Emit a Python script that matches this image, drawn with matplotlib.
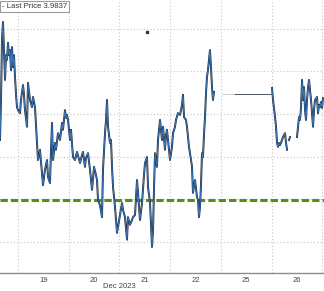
import numpy as np
import matplotlib
matplotlib.use("Agg")
import matplotlib.pyplot as plt
import matplotlib.transforms as mtransforms

# time axis: trading-day index, 0 = open of Dec 19 (weekend removed)
day_labels = ["19", "20", "21", "22", "25", "26"]
month_label = "Dec 2023"
last_price = 3.9837
level = 3.9597
event_t, event_v = 2.54, 3.9993

dec18_t = [-0.355, -0.335, -0.316, -0.296, -0.276, -0.256, -0.237, -0.217, -0.197, -0.178,
           -0.158, -0.138, -0.118, -0.099, -0.079, -0.059, -0.039, -0.020]
dec18_v = [3.9739, 3.9833, 3.9974, 4.0016, 3.9950, 3.9880, 3.9938, 3.9927, 3.9967, 3.9938,
           3.9950, 3.9903, 3.9957, 3.9910, 3.9938, 3.9887, 3.9845, 3.9816]

dec19_t = [0.000, 0.039, 0.059, 0.099, 0.118, 0.138, 0.178, 0.197, 0.237, 0.276, 0.296, 0.335,
           0.355, 0.375, 0.394, 0.434, 0.473, 0.493, 0.532, 0.572, 0.592, 0.631, 0.651, 0.671,
           0.690, 0.730, 0.749, 0.789, 0.828, 0.868, 0.887, 0.927, 0.947, 0.966, 0.986]
dec19_v = [3.9809, 3.9802, 3.9833, 3.9868, 3.9845, 3.9809, 3.9770, 3.9873, 3.9833, 3.9816,
           3.9840, 3.9816, 3.9774, 3.9732, 3.9692, 3.9716, 3.9662, 3.9633, 3.9669, 3.9692,
           3.9652, 3.9638, 3.9716, 3.9779, 3.9692, 3.9732, 3.9716, 3.9755, 3.9739, 3.9779,
           3.9763, 3.9809, 3.9791, 3.9798, 3.9786]

dec20_t = [1.026, 1.045, 1.085, 1.124, 1.164, 1.223, 1.262, 1.282, 1.321, 1.341, 1.381, 1.420,
           1.460, 1.499, 1.538, 1.558, 1.578, 1.617, 1.657, 1.676, 1.716, 1.736, 1.755, 1.775,
           1.815, 1.834, 1.854, 1.874, 1.913, 1.933, 1.953, 1.972]
dec20_v = [3.9739, 3.9763, 3.9699, 3.9692, 3.9711, 3.9685, 3.9704, 3.9711, 3.9676, 3.9697,
           3.9708, 3.9669, 3.9622, 3.9676, 3.9657, 3.9645, 3.9598, 3.9586, 3.9558, 3.9669,
           3.9755, 3.9786, 3.9833, 3.9770, 3.9732, 3.9739, 3.9676, 3.9629, 3.9582, 3.9551,
           3.9521, 3.9535]

dec21_t = [2.051, 2.071, 2.110, 2.150, 2.169, 2.209, 2.248, 2.268, 2.308, 2.347, 2.367, 2.406,
           2.446, 2.485, 2.505, 2.544, 2.564, 2.604, 2.623, 2.643, 2.663, 2.682, 2.702, 2.741,
           2.761, 2.801, 2.820, 2.840, 2.860, 2.899, 2.919, 2.938, 2.958, 2.998]
dec21_v = [3.9591, 3.9575, 3.9558, 3.9505, 3.9558, 3.9540, 3.9551, 3.9558, 3.9563, 3.9645,
           3.9615, 3.9551, 3.9591, 3.9657, 3.9685, 3.9699, 3.9629, 3.9591, 3.9540, 3.9488,
           3.9528, 3.9622, 3.9708, 3.9676, 3.9739, 3.9786, 3.9763, 3.9739, 3.9770, 3.9716,
           3.9751, 3.9763, 3.9739, 3.9692]

dec22_t = [3.037, 3.057, 3.096, 3.116, 3.155, 3.195, 3.214, 3.234, 3.254, 3.274, 3.313, 3.333,
           3.372, 3.392, 3.432, 3.451, 3.491, 3.530, 3.550, 3.570, 3.589, 3.609, 3.629, 3.648,
           3.668, 3.688, 3.708, 3.727, 3.747, 3.767, 3.786, 3.806, 3.826, 3.845, 3.865]
dec22_v = [3.9723, 3.9755, 3.9770, 3.9786, 3.9802, 3.9798, 3.9809, 3.9821, 3.9845, 3.9793,
           3.9786, 3.9770, 3.9723, 3.9708, 3.9676, 3.9615, 3.9645, 3.9605, 3.9598, 3.9558,
           3.9582, 3.9633, 3.9708, 3.9699, 3.9751, 3.9793, 3.9849, 3.9887, 3.9903, 3.9927,
           3.9950, 3.9910, 3.9863, 3.9833, 3.9852]

# Christmas: no trading, flat line
dec25_t = [4.024, 4.280, 4.990]
dec25_v = [3.9847, 3.9847, 3.9847]

dec26_t = [5.010, 5.030, 5.069, 5.089, 5.108, 5.128, 5.148, 5.168, 5.207, 5.227, 5.266, 5.286,
           5.306, 5.326, 5.345, 5.365, 5.440, 5.503, 5.523, 5.542, 5.562, 5.582, 5.602, 5.621,
           5.641, 5.661, 5.680, 5.700, 5.720, 5.740, 5.759, 5.779, 5.799, 5.818, 5.838, 5.858,
           5.897, 5.917, 5.937, 5.956, 5.976, 5.996, 6.015]
dec26_v = [3.9861, 3.9833, 3.9793, 3.9770, 3.9732, 3.9723, 3.9732, 3.9727, 3.9739, 3.9746,
           3.9755, 3.9732, 3.9716, np.nan, 3.9739, 3.9746, np.nan, 3.9746, 3.9770, 3.9793,
           3.9786, 3.9816, 3.9880, 3.9833, 3.9863, 3.9809, 3.9786, 3.9833, 3.9863, 3.9880,
           3.9856, 3.9833, 3.9802, 3.9770, 3.9809, 3.9833, 3.9840, 3.9802, 3.9821, 3.9816,
           3.9828, 3.9814, 3.9837]

trade_t = dec18_t + dec19_t + dec20_t + dec21_t + dec22_t
trade_v = dec18_v + dec19_v + dec20_v + dec21_v + dec22_v

fig = plt.figure(figsize=(3.24, 2.91), dpi=100)
ax = fig.add_axes([0, 18 / 291, 1, 273 / 291])

ax.set_xlim(-0.355, 6.035)
ax.set_ylim(3.94268, 4.00676)

# grid
ax.set_xticks(range(0, 7))
ax.set_yticks([3.95, 3.96, 3.97, 3.98, 3.99, 4.00])
ax.grid(True, color="#c4c4c4", linestyle=(0, (1, 2)), linewidth=0.8)
ax.tick_params(axis="both", which="major", length=0, labelbottom=False, labelleft=False)
ax.set_xticks([i + 0.5 for i in range(len(day_labels))], minor=True)
ax.set_xticklabels(day_labels, minor=True, fontsize=5.5, color="#444444",
                   family="Liberation Sans")
ax.tick_params(axis="x", which="minor", length=0, pad=3)

for s in ["top", "left", "right"]:
    ax.spines[s].set_visible(False)
ax.spines["bottom"].set_color("#8c8c8c")
ax.spines["bottom"].set_linewidth(1.0)

# green level
ax.axhline(level, color="#5b8c1a", linewidth=2.2, dashes=(2.4, 1.0), zorder=2)

# price
for t, v in [(trade_t, trade_v), (dec26_t, dec26_v)]:
    ax.plot(t, v, color="#1d2c3e", linewidth=1.4, zorder=3)
    ax.plot(t, v, color="#3f7fc8", linewidth=0.6, zorder=4)
ax.plot(dec25_t[:2], dec25_v[:2], color="#9a9a9a", linewidth=0.7, linestyle=(0, (1, 1)), zorder=3)
ax.plot(dec25_t[1:], dec25_v[1:], color="#4a5563", linewidth=0.7, zorder=3)

ax.plot([event_t], [event_v], marker="s", markersize=2, color="#2e3a1e", zorder=5)

trans = mtransforms.blended_transform_factory(ax.transData, ax.transAxes)
ax.text(2.0, -0.038, month_label, transform=trans, ha="center", va="top",
        fontsize=5.5, color="#444444", family="Liberation Sans")

ax.text(0.006, 0.988, "- Last Price %.4f" % last_price, transform=ax.transAxes,
        ha="left", va="top", fontsize=5.6, color="#333333", family="Liberation Sans",
        bbox=dict(facecolor="white", edgecolor="#9a9a9a", linewidth=0.8,
                  boxstyle="square,pad=0.25"), zorder=6)

fig.savefig("out.png", dpi=100)
